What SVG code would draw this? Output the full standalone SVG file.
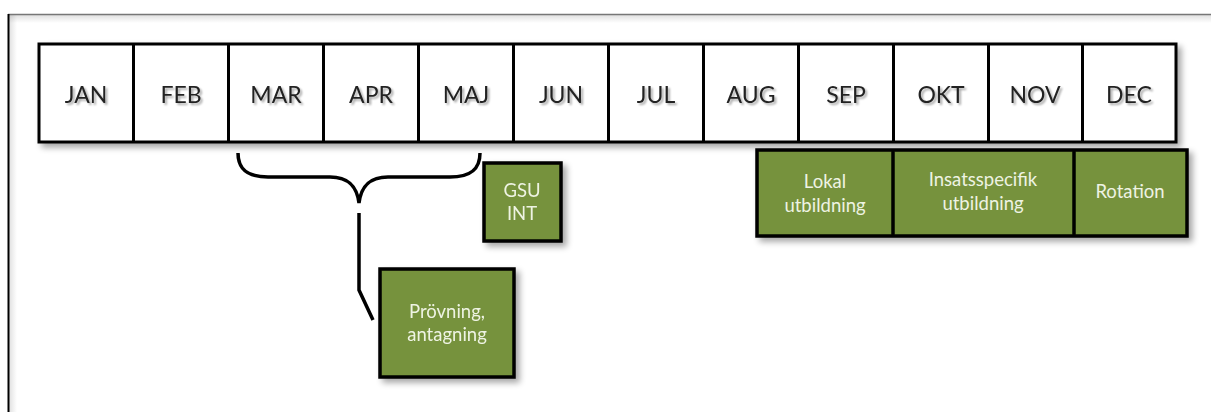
<svg xmlns="http://www.w3.org/2000/svg" width="1211" height="412" viewBox="0 0 1211 412">
<defs>
<filter id="sh" x="-20%" y="-20%" width="150%" height="150%">
<feGaussianBlur in="SourceAlpha" stdDeviation="3"/>
<feOffset dx="4" dy="4" result="b"/>
<feComponentTransfer><feFuncA type="linear" slope="0.35"/></feComponentTransfer>
<feMerge><feMergeNode/><feMergeNode in="SourceGraphic"/></feMerge>
</filter>
<filter id="tsh" x="-20%" y="-20%" width="150%" height="170%">
<feGaussianBlur in="SourceAlpha" stdDeviation="1.2"/>
<feOffset dx="1.5" dy="2"/>
<feComponentTransfer><feFuncA type="linear" slope="0.35"/></feComponentTransfer>
<feMerge><feMergeNode/><feMergeNode in="SourceGraphic"/></feMerge>
</filter>
<linearGradient id="gt" x1="0" y1="0" x2="0" y2="1"><stop offset="0" stop-color="#000" stop-opacity="0.12"/><stop offset="1" stop-color="#000" stop-opacity="0"/></linearGradient>
<linearGradient id="gl" x1="0" y1="0" x2="1" y2="0"><stop offset="0" stop-color="#000" stop-opacity="0.12"/><stop offset="1" stop-color="#000" stop-opacity="0"/></linearGradient>
</defs>
<style>
.m{fill:#fff;stroke:#000;stroke-width:3}
.mt{font-family:Lato,"Liberation Sans",sans-serif;font-size:23px;fill:#222;text-anchor:middle}
.g{fill:#76923c;stroke:#000;stroke-width:3.5}
.gt{font-family:Lato,"Liberation Sans",sans-serif;font-size:18.5px;fill:#eef3e3;text-anchor:middle}
.c{fill:none;stroke:#000;stroke-width:3.5}
</style>
<rect width="1211" height="412" fill="#fff"/>
<rect x="9" y="15" width="1202" height="8" fill="url(#gt)"/>
<rect x="9" y="15" width="8" height="397" fill="url(#gl)"/>
<line x1="8" y1="14.5" x2="1211" y2="14.5" stroke="#777" stroke-width="1.5"/>
<line x1="8.5" y1="14" x2="8.5" y2="412" stroke="#000" stroke-width="2"/>
<g id="months" filter="url(#sh)">
<rect class="m" x="39" y="44" width="1137" height="98"/>
<g stroke="#000" stroke-width="3">
<line x1="133.5" y1="44" x2="133.5" y2="142"/>
<line x1="228.5" y1="44" x2="228.5" y2="142"/>
<line x1="323.5" y1="44" x2="323.5" y2="142"/>
<line x1="418.5" y1="44" x2="418.5" y2="142"/>
<line x1="513.5" y1="44" x2="513.5" y2="142"/>
<line x1="608.5" y1="44" x2="608.5" y2="142"/>
<line x1="703.5" y1="44" x2="703.5" y2="142"/>
<line x1="798.5" y1="44" x2="798.5" y2="142"/>
<line x1="893.5" y1="44" x2="893.5" y2="142"/>
<line x1="988.5" y1="44" x2="988.5" y2="142"/>
<line x1="1082.5" y1="44" x2="1082.5" y2="142"/>
</g>
</g>
<g id="month-labels" filter="url(#tsh)">
<text class="mt" x="86" y="103">JAN</text>
<text class="mt" x="181" y="103">FEB</text>
<text class="mt" x="276" y="103">MAR</text>
<text class="mt" x="371" y="103">APR</text>
<text class="mt" x="466" y="103">MAJ</text>
<text class="mt" x="561" y="103">JUN</text>
<text class="mt" x="656" y="103">JUL</text>
<text class="mt" x="751" y="103">AUG</text>
<text class="mt" x="846" y="103">SEP</text>
<text class="mt" x="941" y="103">OKT</text>
<text class="mt" x="1035" y="103">NOV</text>
<text class="mt" x="1129" y="103">DEC</text>
</g>
<g id="connectors">
<path class="c" d="M238,153 C238,170 248,177 268,177 L330,177 C350,177 357,188 359,203 C361,188 368,177 388,177 L450,177 C470,177 480,170 480,153"/>
<path class="c" d="M359,213 L359,290 L373,320"/>
</g>
<g id="gsu" filter="url(#sh)">
<rect class="g" x="484" y="163" width="77" height="78"/>
<text class="gt" x="522" y="197">GSU</text>
<text class="gt" x="522" y="220">INT</text>
</g>
<g id="provning" filter="url(#sh)">
<rect class="g" x="380" y="269" width="134" height="108"/>
<text class="gt" x="447" y="318">Prövning,</text>
<text class="gt" x="447" y="341">antagning</text>
</g>
<g id="training" filter="url(#sh)">
<rect class="g" x="757" y="150" width="430" height="86"/>
<line x1="893" y1="150" x2="893" y2="236" stroke="#000" stroke-width="3.5"/>
<line x1="1074" y1="150" x2="1074" y2="236" stroke="#000" stroke-width="3.5"/>
</g>
<g id="lokal">
<text class="gt" x="825" y="188">Lokal</text>
<text class="gt" x="825" y="212">utbildning</text>
</g>
<g id="insats">
<text class="gt" x="983" y="186">Insatsspecifik</text>
<text class="gt" x="983" y="210">utbildning</text>
</g>
<g id="rotation">
<text class="gt" x="1130" y="198">Rotation</text>
</g>
</svg>
